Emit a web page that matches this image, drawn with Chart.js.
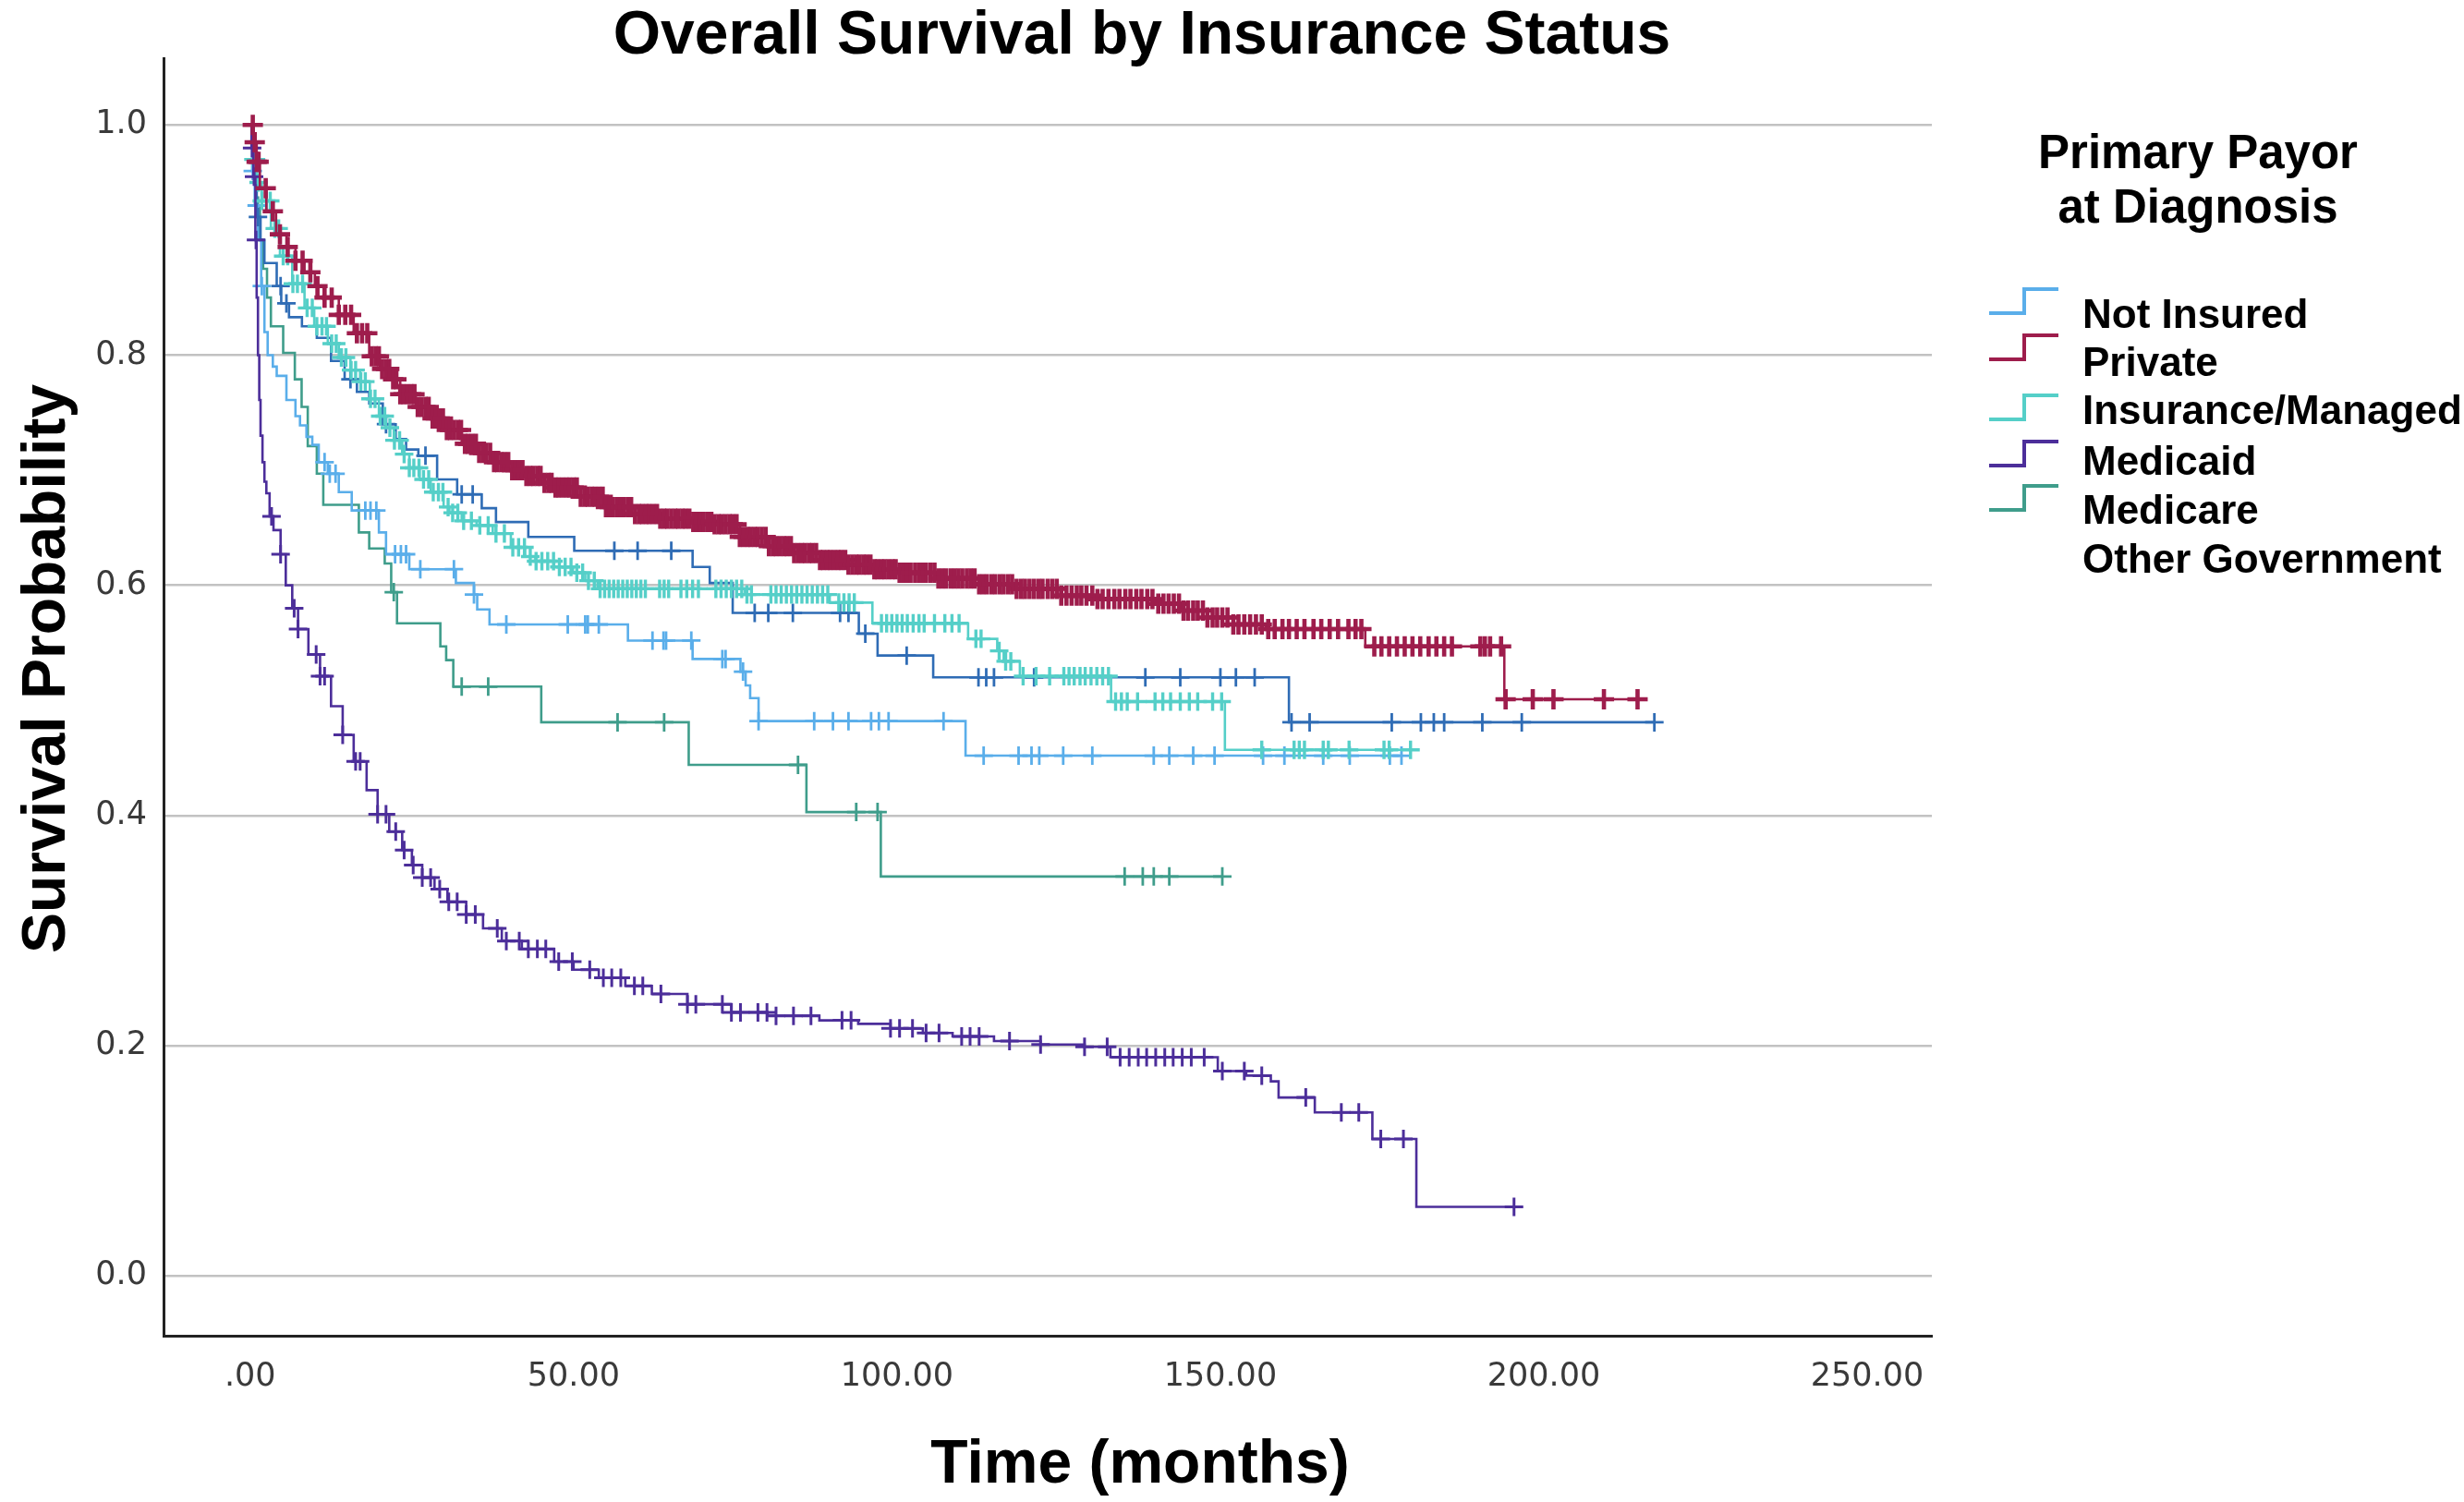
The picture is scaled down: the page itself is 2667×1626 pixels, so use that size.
<!DOCTYPE html>
<html>
<head>
<meta charset="utf-8">
<script src="https://cdn.jsdelivr.net/npm/chart.js@4.4.1/dist/chart.umd.min.js"></script>
<style>
  html, body { margin: 0; padding: 0; background: #fff; }
  #wrap { width: 2667px; height: 1626px; }
</style>
</head>
<body>
<div id="wrap"><canvas id="km" width="2667" height="1626"></canvas></div>
<script>
// axis ticks
const xTicks = [0, 50, 100, 150, 200, 250];
const yTicks = [0, 0.2, 0.4, 0.6, 0.8, 1.0];

// Kaplan-Meier steps: event time (months) and survival after it
const notInsuredTime = [0, 0.3, 0.7, 1.2, 1.7, 2.2, 2.7, 3.5, 4.1, 5.6, 7.0, 7.7, 8.7, 9.6, 10.6, 12.0, 13.7, 15.7, 19.9, 21.0, 24.6, 31.8, 34.6, 35.1, 37.0, 58.4, 68.4, 75.8, 76.6, 77.3, 78.6, 110.6];
const notInsuredSurv = [1, 0.96, 0.93, 0.90, 0.86, 0.82, 0.80, 0.79, 0.782, 0.761, 0.747, 0.739, 0.729, 0.722, 0.707, 0.697, 0.681, 0.665, 0.646, 0.627, 0.614, 0.602, 0.592, 0.579, 0.566, 0.552, 0.536, 0.525, 0.513, 0.502, 0.482, 0.452];
const notInsuredCensor = [0.4, 1.0, 1.8, 11.5, 12.3, 13.2, 17.8, 18.6, 19.5, 22.4, 23.3, 24.1, 26.3, 31.5, 34.6, 39.6, 49.1, 51.8, 52.2, 53.9, 62.2, 63.9, 64.3, 68.2, 73.0, 73.5, 76.2, 78.6, 87.2, 90.1, 92.5, 96.0, 97.2, 98.7, 107.2, 113.4, 118.8, 120.8, 122.0, 125.7, 130.2, 139.7, 142.1, 145.8, 149.1, 156.6, 159.9, 165.9, 170.0, 176.2, 178.0];

const privateTime = [0, 0.5, 1.0, 1.5, 2.5, 4.0, 5.6, 7.0, 8.4, 10.0, 11.5, 13.7, 16.0, 18.4, 20.0, 21.8, 23.2, 25.6, 27.9, 30.0, 32.7, 35.0, 37.5, 40.0, 42.3, 45.0, 47.0, 51.0, 55.0, 59.0, 63.4, 68.0, 71.6, 75.7, 80.0, 83.9, 88.0, 92.1, 96.0, 100.3, 106.0, 112.6, 118.0, 124.9, 131.0, 140.0, 144.0, 148.0, 152.0, 157.0, 172.4, 193.9];
const privateSurv = [1, 0.985, 0.968, 0.945, 0.925, 0.905, 0.894, 0.882, 0.872, 0.860, 0.850, 0.835, 0.819, 0.799, 0.788, 0.779, 0.766, 0.755, 0.745, 0.735, 0.723, 0.715, 0.707, 0.700, 0.695, 0.689, 0.685, 0.677, 0.668, 0.662, 0.658, 0.655, 0.653, 0.642, 0.634, 0.628, 0.622, 0.618, 0.614, 0.611, 0.606, 0.601, 0.597, 0.591, 0.588, 0.584, 0.578, 0.572, 0.566, 0.562, 0.547, 0.501];
const privateCensor = [
  0.4, 0.7, 1.0, 1.3, 2.4, 3.5, 4.6, 5.8, 7.0, 8.1, 9.3, 10.4, 11.5, 12.6, 13.7, 14.7, 15.6, 16.5, 17.3, 18.1, 18.8, 19.4, 19.9,
  20.4, 21.0, 21.5, 22.1, 22.6, 23.2, 23.7, 24.3, 24.9, 25.4, 25.9, 26.5, 27.1, 27.6, 28.2, 28.7, 29.3, 29.8, 30.4, 30.9, 31.5, 32.1, 32.6, 33.2, 33.7, 34.3, 34.9, 35.4, 36.0, 36.5, 37.1, 37.7, 38.2, 38.8, 39.3, 39.9,
  40.5, 41.0, 41.6, 42.1, 42.7, 43.3, 43.8, 44.4, 44.9, 45.5, 46.1, 46.6, 47.2, 47.7, 48.3, 48.9, 49.4, 50.0, 50.5, 51.1, 51.7, 52.2, 52.8, 53.3, 53.9, 54.5, 55.0, 55.6, 56.1, 56.7, 57.3, 57.8, 58.4, 58.9, 59.5,
  60.1, 60.6, 61.2, 61.7, 62.3, 62.9, 63.4, 64.0, 64.5, 65.1, 65.7, 66.2, 66.8, 67.3, 67.9, 68.5, 69.0, 69.6, 70.1, 70.7, 71.3, 71.8, 72.4, 72.9, 73.5, 74.1, 74.6, 75.2, 75.7, 76.3, 76.9, 77.4, 78.0, 78.5, 79.1, 79.7,
  80.2, 80.8, 81.3, 81.9, 82.5, 83.0, 83.6, 84.1, 84.7, 85.3, 85.8, 86.4, 86.9, 87.5, 88.1, 88.6, 89.2, 89.7, 90.3, 90.9, 91.4, 92.0, 92.5, 93.1, 93.7, 94.2, 94.8, 95.3, 95.9, 96.5, 97.0, 97.6, 98.1, 98.7, 99.3, 99.8,
  100.4, 101.0, 101.6, 102.1, 102.8, 103.4, 104.0, 104.5, 105.2, 105.8, 106.4, 107.0, 107.6, 108.3, 108.9, 109.5, 110.1, 110.8, 111.4, 112.0, 112.7, 113.3, 113.9, 114.6, 115.2, 115.9, 116.5, 117.2, 117.8, 118.5, 119.2, 119.8,
  120.5, 121.2, 121.9, 122.5, 123.3, 124.0, 124.7, 125.4, 126.2, 127.0, 127.8, 128.5, 129.3, 130.2, 131.0, 131.8, 132.7, 133.6, 134.4, 135.3, 136.1, 137.0, 137.8, 138.7, 139.5, 140.4, 141.2, 142.0, 142.8, 143.6, 144.3, 145.0, 145.8, 146.5, 147.3,
  148.0, 148.8, 149.5, 150.3, 151.1, 152.0, 152.8, 153.7, 154.6, 155.5, 156.4, 157.4, 158.4, 159.6, 160.6, 161.8, 163.0, 164.4, 165.6, 166.9, 168.2, 169.8, 170.9, 171.8, 173.8, 174.9, 176.1, 177.3, 178.5, 179.7, 180.9, 182.2, 183.4, 184.6, 185.8, 190.2, 190.9, 191.7, 193.4, 194.1, 198.3, 201.5, 209.3, 214.5
];

const managedTime = [0, 0.5, 1.0, 1.8, 3.2, 4.6, 6.5, 8.4, 9.9, 12.0, 13.7, 15.5, 17.0, 18.5, 19.9, 21.0, 22.2, 23.5, 24.6, 26.2, 27.9, 29.9, 30.8, 32.7, 35.0, 37.5, 40.3, 42.5, 44.1, 47.0, 49.9, 51.8, 53.7, 76.5, 89.6, 96.2, 111.0, 115.5, 116.5, 119.0, 133.1, 150.7];
const managedSurv = [1, 0.97, 0.95, 0.934, 0.91, 0.886, 0.862, 0.841, 0.825, 0.81, 0.798, 0.787, 0.777, 0.762, 0.747, 0.737, 0.726, 0.714, 0.702, 0.692, 0.681, 0.668, 0.663, 0.656, 0.652, 0.645, 0.633, 0.625, 0.621, 0.616, 0.611, 0.604, 0.597, 0.592, 0.585, 0.567, 0.5535, 0.543, 0.534, 0.521, 0.499, 0.457];
const managedCensor = [
  0.5, 0.9, 1.3, 1.8, 2.5, 3.1, 3.8, 4.4, 5.1, 5.8, 6.6, 7.3, 8.1, 8.8, 9.6, 10.3, 11.1, 11.8, 12.6, 13.3, 14.1, 14.8, 15.6, 16.3, 17.1, 17.8, 18.6, 19.3, 20.1, 20.8, 21.6, 22.3, 23.1, 23.8, 24.6, 25.3, 26.1, 26.8, 27.6, 28.3, 29.1, 29.8, 30.6, 31.3, 32.1, 33.0, 34.2, 35.5, 36.8, 38.0, 39.3, 40.6, 41.5, 42.4, 43.3, 44.2, 45.1, 46.0, 46.9, 47.8, 48.7, 49.6, 50.5, 51.4, 52.3, 53.2,
  54.1, 54.8, 55.5, 56.2, 56.9, 57.6, 58.3, 59.0, 59.7, 60.4, 61.1, 63.3, 64.0, 64.7, 66.6, 67.5, 68.4, 69.3, 72.0, 72.8, 73.6, 74.4, 75.2, 76.0, 76.8, 77.5, 80.5, 81.3, 82.1, 82.9, 83.7, 84.5, 85.3, 86.1, 86.9, 87.7, 88.5, 89.3, 91.0, 91.8, 92.6, 93.4,
  97.6, 98.4, 99.2, 100.0, 100.8, 101.6, 102.5, 103.4, 104.2, 105.8, 107.4, 108.5, 109.6, 112.2, 113.0, 115.8, 116.8, 117.6, 119.5, 121.5, 123.6, 125.8, 126.6, 127.4, 128.3, 129.1, 130.0, 130.9, 131.8, 132.7,
  133.8, 134.7, 135.6, 137.2, 139.9, 141.1, 142.3, 143.8, 145.2, 146.5, 148.8, 150.2, 156.4, 161.4, 162.2, 163.0, 165.9, 166.7, 169.9, 175.3, 176.1, 179.4
];

const medicaidTime = [0, 0.2, 0.5, 0.8, 1.0, 1.2, 1.4, 1.6, 1.9, 2.2, 2.5, 3.0, 3.6, 4.7, 5.5, 6.5, 7.4, 9.0, 10.8, 12.5, 14.3, 16.0, 18.0, 19.7, 21.5, 23.5, 25.0, 26.6, 28.5, 30.5, 33.4, 36.0, 38.9, 42.0, 47.0, 50.0, 53.9, 58.0, 62.1, 67.6, 74.4, 80.0, 88.0, 94.0, 99.0, 104.0, 108.6, 115.0, 122.2, 129.0, 133.0, 149.6, 154.0, 157.8, 159.0, 164.6, 173.5, 180.3];
const medicaidSurv = [1, 0.98, 0.955, 0.90, 0.85, 0.80, 0.761, 0.73, 0.707, 0.69, 0.68, 0.66, 0.648, 0.627, 0.60, 0.58, 0.562, 0.54, 0.521, 0.495, 0.47, 0.447, 0.422, 0.401, 0.386, 0.37, 0.357, 0.346, 0.336, 0.325, 0.314, 0.302, 0.291, 0.284, 0.273, 0.266, 0.259, 0.252, 0.245, 0.236, 0.229, 0.226, 0.222, 0.219, 0.215, 0.211, 0.208, 0.204, 0.201, 0.199, 0.19, 0.178, 0.174, 0.169, 0.155, 0.142, 0.119, 0.06];
const medicaidCensor = [
  0.3, 0.6, 0.9, 3.3, 4.7, 6.8, 7.4, 10.2, 10.8, 11.5, 14.3, 16.3, 17.0, 19.7, 21.0, 22.5, 23.8, 25.2, 26.6, 27.9, 29.3, 30.7, 32.0, 33.4, 34.8, 38.2, 39.6, 41.6, 43.0, 44.4, 45.7, 47.7, 49.8, 52.5, 54.6, 55.9, 57.3, 59.4, 60.7, 63.5, 67.6, 68.9, 73.0, 74.4, 75.8, 78.5, 79.9, 81.3, 84.0, 86.7, 91.5, 92.9,
  99.0, 100.4, 102.4, 104.5, 106.5, 110.0, 111.3, 112.7, 117.4, 122.2, 129.0, 132.5, 134.5, 135.9, 137.3, 138.6, 140.0, 141.4, 142.7, 144.1, 145.5, 147.5, 150.3, 153.7, 156.4, 163.2, 168.7, 171.4, 174.8, 178.3, 195.4
];

const medicareTime = [0, 0.5, 1.0, 1.5, 2.0, 2.6, 3.2, 5.1, 6.9, 7.95, 8.9, 10.3, 11.3, 16.8, 18.4, 20.8, 21.8, 22.7, 29.4, 30.3, 31.4, 45.0, 67.8, 86.0, 97.5];
const medicareSurv = [1, 0.96, 0.93, 0.90, 0.875, 0.85, 0.825, 0.802, 0.779, 0.755, 0.721, 0.697, 0.67, 0.646, 0.632, 0.619, 0.594, 0.567, 0.547, 0.535, 0.512, 0.481, 0.444, 0.403, 0.347];
const medicareCensor = [0.4, 1.2, 22.2, 32.7, 36.8, 56.8, 64.0, 84.7, 93.7, 97.0, 135.2, 138.0, 139.7, 142.1, 150.3];

const otherGovTime = [0, 0.5, 1.0, 1.6, 2.2, 4.1, 4.8, 6.0, 8.0, 10.3, 12.5, 14.6, 16.5, 18.4, 20.5, 22.5, 24.1, 26.0, 28.9, 32.0, 35.8, 38.0, 43.0, 50.1, 68.4, 71.05, 74.6, 94.1, 97.0, 105.6, 160.6];
const otherGovSurv = [1, 0.96, 0.92, 0.90, 0.88, 0.86, 0.845, 0.833, 0.825, 0.815, 0.795, 0.779, 0.768, 0.758, 0.74, 0.727, 0.718, 0.7126, 0.692, 0.679, 0.667, 0.655, 0.642, 0.63, 0.616, 0.602, 0.576, 0.558, 0.539, 0.52, 0.481];
const otherGovCensor = [1.2, 4.7, 5.6, 15.5, 21.0, 27.1, 32.7, 34.4, 56.3, 59.9, 65.1, 78.0, 80.1, 83.9, 91.2, 92.5, 95.1, 101.5, 112.6, 113.8, 115.0, 121.2, 138.4, 143.8, 150.0, 152.4, 155.3, 161.0, 163.8, 176.5, 181.0, 183.0, 184.6, 190.5, 196.6, 217.1];

// legend text, as printed in the figure (5 symbols, 6 lines)
const legendTitle = ['Primary Payor', 'at Diagnosis'];
const legendLines = ['Not Insured', 'Private', 'Insurance/Managed', 'Medicaid', 'Medicare', 'Other Government'];

const colors = {
  notInsured: '#5aaeea',
  private: '#9e1d4c',
  managed: '#55cfc8',
  medicaid: '#4c2e9a',
  medicare: '#3f9d8b',
  otherGov: '#2f6cb5'
};

function stepValue(times, surv, t) {
  let s = surv[0];
  for (let i = 0; i < times.length; i++) {
    if (times[i] <= t) s = surv[i];
    else break;
  }
  return s;
}

function makeGroup(label, times, surv, censor, color, order, markSize, markWidth) {
  const end = Math.max(times[times.length - 1], censor[censor.length - 1]);
  const linePts = times.map((t, i) => ({ x: t, y: surv[i] }));
  linePts.push({ x: end, y: surv[surv.length - 1] });
  const marks = censor.map(t => ({ x: t, y: stepValue(times, surv, t) }));
  return [
    {
      label: label,
      data: linePts,
      stepped: true,
      borderColor: color,
      borderWidth: 2.6,
      pointRadius: 0,
      fill: false,
      order: order + 1
    },
    {
      label: label + ' censored',
      data: marks,
      showLine: false,
      pointStyle: 'cross',
      pointRadius: markSize,
      pointBorderWidth: markWidth,
      pointBorderColor: color,
      pointBackgroundColor: color,
      order: order
    }
  ];
}

const datasets = [
  ...makeGroup('Private', privateTime, privateSurv, privateCensor, colors.private, 0, 11, 4.6),
  ...makeGroup('Medicaid', medicaidTime, medicaidSurv, medicaidCensor, colors.medicaid, 2, 10, 3),
  ...makeGroup('Insurance/Managed', managedTime, managedSurv, managedCensor, colors.managed, 4, 10, 3.4),
  ...makeGroup('Other Government', otherGovTime, otherGovSurv, otherGovCensor, colors.otherGov, 6, 10, 2.8),
  ...makeGroup('Not Insured', notInsuredTime, notInsuredSurv, notInsuredCensor, colors.notInsured, 8, 10, 2.8),
  ...makeGroup('Medicare', medicareTime, medicareSurv, medicareCensor, colors.medicare, 10, 10, 2.8)
];

const legendSymbolColors = [colors.notInsured, colors.private, colors.managed, colors.medicaid, colors.medicare];

// titles and the SPSS style legend are drawn on the same canvas
const textPlugin = {
  id: 'kmText',
  afterDraw(chart, args, opts) {
    const ctx = chart.ctx;
    ctx.save();
    ctx.fillStyle = '#000';
    ctx.textBaseline = 'alphabetic';

    ctx.font = 'bold 66px "Liberation Sans", Arial, sans-serif';
    ctx.textAlign = 'center';
    ctx.fillText(opts.title, opts.titleX, opts.titleY);
    ctx.fillText(opts.xTitle, opts.xTitleX, opts.xTitleY);
    ctx.save();
    ctx.translate(opts.yTitleX, opts.yTitleY);
    ctx.rotate(-Math.PI / 2);
    ctx.fillText(opts.yTitle, 0, 0);
    ctx.restore();

    ctx.font = 'bold 51px "Liberation Sans", Arial, sans-serif';
    legendTitle.forEach((line, i) => {
      ctx.fillText(line, opts.legendTitleX, opts.legendTitleY[i]);
    });

    ctx.font = 'bold 44px "Liberation Sans", Arial, sans-serif';
    ctx.textAlign = 'left';
    legendLines.forEach((line, i) => {
      ctx.fillText(line, opts.legendTextX, opts.legendTextY[i]);
    });

    ctx.lineWidth = 4;
    ctx.lineCap = 'butt';
    legendSymbolColors.forEach((c, i) => {
      const low = opts.symbolLowY[i];
      const high = low - opts.symbolRise;
      ctx.strokeStyle = c;
      ctx.beginPath();
      ctx.moveTo(opts.symbolX[0], low);
      ctx.lineTo(opts.symbolX[1], low);
      ctx.lineTo(opts.symbolX[1], high);
      ctx.lineTo(opts.symbolX[2], high);
      ctx.stroke();
    });
    ctx.restore();
  }
};

new Chart(document.getElementById('km'), {
  type: 'line',
  data: { datasets: datasets },
  plugins: [textPlugin],
  options: {
    responsive: false,
    animation: false,
    events: [],
    layout: { padding: { left: 0, right: 576, top: 63, bottom: 0 } },
    scales: {
      x: {
        type: 'linear',
        min: -13.4,
        max: 260,
        afterBuildTicks: (scale) => { scale.ticks = xTicks.map(v => ({ value: v })); },
        afterFit: (scale) => { scale.height = 180; },
        ticks: {
          callback: (v) => (v === 0 ? '.00' : v.toFixed(2)),
          font: { family: 'DejaVu Sans', size: 35 },
          color: '#3a3a3a',
          padding: 24,
          maxRotation: 0,
          autoSkip: false
        },
        grid: { drawOnChartArea: false, drawTicks: false },
        border: { display: true, color: '#222', width: 3 }
      },
      y: {
        type: 'linear',
        min: -0.052,
        max: 1.058,
        afterBuildTicks: (scale) => { scale.ticks = yTicks.map(v => ({ value: v })); },
        afterFit: (scale) => { scale.width = 177; },
        ticks: {
          callback: (v) => v.toFixed(1),
          font: { family: 'DejaVu Sans', size: 35 },
          color: '#3a3a3a',
          padding: 18
        },
        grid: { color: '#c2c2c2', lineWidth: 2.5, drawTicks: false },
        border: { display: true, color: '#222', width: 3 }
      }
    },
    plugins: {
      legend: { display: false },
      tooltip: { enabled: false },
      kmText: {
        title: 'Overall Survival by Insurance Status',
        titleX: 1236, titleY: 58,
        xTitle: 'Time (months)',
        xTitleX: 1234, xTitleY: 1605,
        yTitle: 'Survival Probability',
        yTitleX: 70, yTitleY: 724,
        legendTitleX: 2379, legendTitleY: [182, 241],
        legendTextX: 2254, legendTextY: [355, 407, 459, 514, 567, 620],
        symbolX: [2153, 2191, 2228],
        symbolLowY: [339, 389, 454, 504, 552],
        symbolRise: 26
      }
    }
  }
});
</script>
</body>
</html>
